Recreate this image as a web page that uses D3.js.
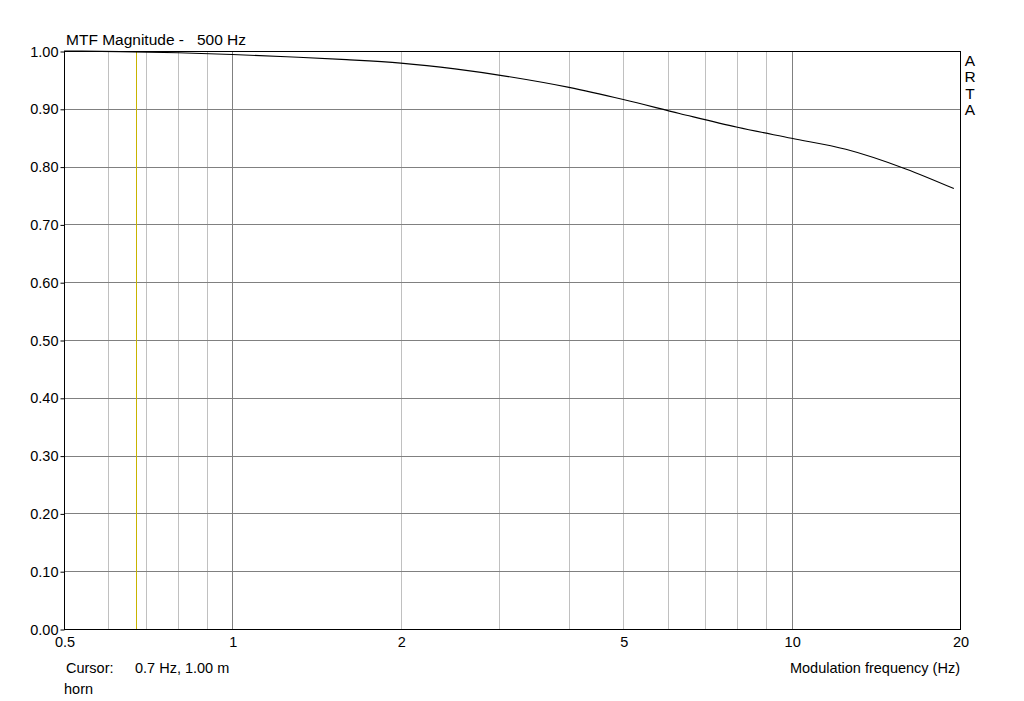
<!DOCTYPE html>
<html><head><meta charset="utf-8">
<script src="https://cdn.jsdelivr.net/npm/d3@7"></script>
<style>body{margin:0;background:#fff}svg{display:block}text{font-family:"Liberation Sans",Arial,sans-serif;white-space:pre;}</style>
</head><body><svg id="c" width="1024" height="701"></svg>
<script>
const freqs = [0.5, 0.63, 0.8, 1, 1.25, 1.6, 2, 2.5, 3.15, 4, 5, 6.3, 8, 10, 12.5, 16, 19.5];
const mtf   = [1.000, 0.999, 0.997, 0.994, 0.990, 0.985, 0.979, 0.969, 0.955, 0.937, 0.916, 0.892, 0.868, 0.849, 0.830, 0.796, 0.762];
const xTicks = [0.5, 1, 2, 5, 10, 20];
const xMinor = [0.6,0.7,0.8,0.9,2,3,4,5,6,7,8,9,20];
const xMajor = [1, 10];
const yTicks = [0,0.1,0.2,0.3,0.4,0.5,0.6,0.7,0.8,0.9,1.0];
const cursorFreq = 0.672;
const titleText = "MTF Magnitude -   500 Hz";
const xLabel = "Modulation frequency (Hz)";
const cursorLabel = "Cursor:", cursorValue = "0.7 Hz, 1.00 m";
const legendText = "horn";
const brand = ["A","R","T","A"];

const svg = d3.select("#c");
const L=64, R=960, T=51, B=629;
const x = d3.scaleLog().domain([0.5,20]).range([L,R]);
const y = d3.scaleLinear().domain([0,1]).range([B,T]);
const fs = 14.5;

svg.append("g").selectAll("line").data(xMinor).join("line")
  .attr("x1",d=>Math.round(x(d))+0.5).attr("x2",d=>Math.round(x(d))+0.5).attr("y1",T).attr("y2",B)
  .attr("stroke","#c0c0c0").attr("stroke-width",1);
svg.append("g").selectAll("line").data(xMajor).join("line")
  .attr("x1",d=>Math.round(x(d))+0.5).attr("x2",d=>Math.round(x(d))+0.5).attr("y1",T).attr("y2",B)
  .attr("stroke","#808080").attr("stroke-width",1);
svg.append("g").selectAll("line").data(yTicks).join("line")
  .attr("x1",L).attr("x2",R).attr("y1",d=>Math.round(y(d))+0.5).attr("y2",d=>Math.round(y(d))+0.5)
  .attr("stroke","#808080").attr("stroke-width",1);

svg.append("line").attr("x1",Math.round(x(cursorFreq))+0.5).attr("x2",Math.round(x(cursorFreq))+0.5)
  .attr("y1",T).attr("y2",B).attr("stroke","#c8b400").attr("stroke-width",1);

svg.append("rect").attr("x",L+0.5).attr("y",T+0.5).attr("width",R-L).attr("height",B-T)
  .attr("fill","none").attr("stroke","#000").attr("stroke-width",1);

const yAxis = d3.axisLeft(y).tickValues(yTicks).tickFormat(d3.format(".2f")).tickSize(4).tickPadding(2);
const ya = svg.append("g").attr("transform",`translate(${L+0.5},0.5)`).call(yAxis);
ya.select(".domain").remove();
ya.selectAll("text").attr("font-size",fs).attr("fill","#000").attr("font-family","Liberation Sans, Arial, sans-serif");
ya.selectAll(".tick line").attr("stroke","#000");

const xAxis = d3.axisBottom(x).tickValues(xTicks).tickFormat(d=>String(d)).tickSize(0).tickPadding(8);
const xa = svg.append("g").attr("transform",`translate(0.5,${B})`).call(xAxis);
xa.select(".domain").remove();
xa.selectAll("text").attr("font-size",fs).attr("fill","#000").attr("font-family","Liberation Sans, Arial, sans-serif");

svg.append("path").datum(freqs.map((f,i)=>[f,mtf[i]]))
  .attr("d",d3.line().x(d=>x(d[0])).y(d=>y(d[1])).curve(d3.curveMonotoneX))
  .attr("fill","none").attr("stroke","#000").attr("stroke-width",1.1);

svg.append("text").attr("x",66).attr("y",45).attr("font-size",15.5).attr("xml:space","preserve").text(titleText);
svg.append("text").attr("x",R).attr("y",673).attr("text-anchor","end").attr("font-size",fs).text(xLabel);
svg.append("text").attr("x",66).attr("y",673).attr("font-size",fs).text(cursorLabel);
svg.append("text").attr("x",135).attr("y",673).attr("font-size",fs).text(cursorValue);
svg.append("text").attr("x",64).attr("y",694).attr("font-size",fs).text(legendText);
svg.append("g").selectAll("text").data(brand).join("text")
  .attr("x",970).attr("y",(d,i)=>66+i*16.3).attr("text-anchor","middle").attr("font-size",15.5).text(d=>d);
</script></body></html>
